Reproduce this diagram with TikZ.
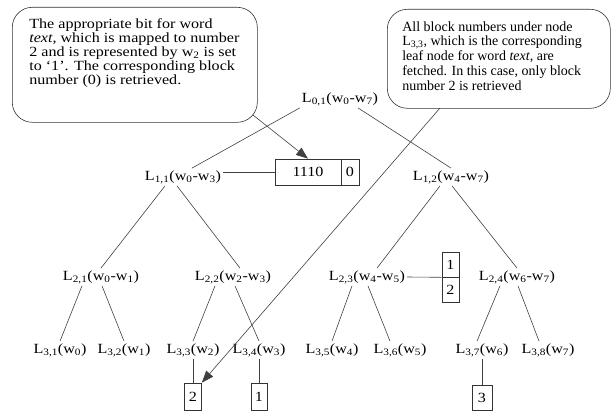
\documentclass[tikz,border=0pt]{standalone}
\usepackage{fontspec}
\setmainfont{Liberation Serif}[FakeStretch=1.15]
\newfontfamily\plainserif{Liberation Serif}
\usepackage{tikz}
\usetikzlibrary{arrows.meta, positioning}

\newcommand{\wi}[1]{w\textsubscript{#1}}
\newcommand{\wl}[2]{L\textsubscript{#1}(#2)}

\tikzset{
  lbl/.style={inner sep=2pt, font=\fontsize{14}{14.2}\selectfont},
  cell/.style={draw=black!80, line width=0.6pt, inner sep=0pt,
    font=\fontsize{14}{14.2}\selectfont},
  note/.style={draw=black!80, line width=0.6pt, rounded corners=20pt,
    anchor=north west, inner xsep=17pt, inner ysep=11pt},
  edge/.style={draw=black!75, line width=0.6pt},
  arr/.style={edge, -{Triangle[length=12pt, width=9pt]}}
}

\begin{document}
\begin{tikzpicture}[x=1pt, y=-1pt]
  \useasboundingbox (0,0) rectangle (612,412);

  % callouts
  \node[note] (c1) at (12,7) {%
    \parbox[c][93pt][t]{211pt}{\fontsize{14}{14.2}\selectfont\raggedright
      The appropriate bit for word\\
      \textit{text}, which is mapped to number\\
      2 and is represented by \wi{2} is set\\
      to `1'. The corresponding block\\
      number (0) is retrieved.}};
  \node[note, inner xsep=15pt, inner ysep=12pt] (c2) at (387,9) {%
    \parbox[c][75pt][t]{193pt}{\plainserif\fontsize{14}{14.75}\selectfont\raggedright
      All block numbers under node\\
      L\textsubscript{3,3}, which is the corresponding\\
      leaf node for word \textit{text}, are\\
      fetched. In this case, only block\\
      number 2 is retrieved}};
  \coordinate (p1) at (253,115);
  \coordinate (p2) at (440,108);

  % tree
  \node[lbl] (l01) at (340,99) {\wl{0,1}{\wi{0}-\wi{7}}};
  \node[lbl] (l11) at (183,177) {\wl{1,1}{\wi{0}-\wi{3}}};
  \node[lbl] (l12) at (451,177) {\wl{1,2}{\wi{4}-\wi{7}}};
  \node[lbl] (l21) at (101,277) {\wl{2,1}{\wi{0}-\wi{1}}};
  \node[lbl] (l22) at (233,277) {\wl{2,2}{\wi{2}-\wi{3}}};
  \node[lbl] (l23) at (367,277) {\wl{2,3}{\wi{4}-\wi{5}}};
  \node[lbl] (l24) at (517,277) {\wl{2,4}{\wi{6}-\wi{7}}};
  \node[lbl] (l31) at (60,350) {\wl{3,1}{\wi{0}}};
  \node[lbl] (l32) at (124,350) {\wl{3,2}{\wi{1}}};
  \node[lbl] (l33) at (193,350) {\wl{3,3}{\wi{2}}};
  \node[lbl] (l34) at (259,350) {\wl{3,4}{\wi{3}}};
  \node[lbl] (l35) at (332,350) {\wl{3,5}{\wi{4}}};
  \node[lbl] (l36) at (400,350) {\wl{3,6}{\wi{5}}};
  \node[lbl] (l37) at (482,350) {\wl{3,7}{\wi{6}}};
  \node[lbl] (l38) at (548,350) {\wl{3,8}{\wi{7}}};

  % bit vector and block numbers
  \node[cell, minimum width=66pt, minimum height=26pt] (bits) at (308,172) {1110};
  \node[cell, minimum width=18pt, minimum height=26pt] (blk) at (350,172) {0};
  \node[cell, minimum width=17pt, minimum height=25pt] (b12a) at (450.5,264.5) {1};
  \node[cell, minimum width=17pt, minimum height=25pt] (b12b) at (450.5,289.5) {2};
  \node[cell, minimum width=17pt, minimum height=27pt] (b2) at (193,396.5) {2};
  \node[cell, minimum width=16pt, minimum height=27pt] (b1) at (259,396.5) {1};
  \node[cell, minimum width=20pt, minimum height=25pt] (b3) at (482,397.5) {3};

  \draw[edge] (l01.south west) -- ([xshift=9pt]l11.north);
  \draw[edge] ([xshift=18pt]l01.south) -- (l12.north);
  \foreach \p/\ps/\c/\cs in {l11/-18/l21/0, l11/-6/l22/7, l12/-11/l23/10, l12/1/l24/0,
      l21/-19/l31/0, l21/1/l32/0, l22/-18/l33/0, l22/2/l34/0,
      l23/-15/l35/0, l23/1/l36/-10, l24/-17/l37/-5, l24/1/l38/-9}
    \draw[edge] ([xshift=\ps pt]\p.south) -- ([xshift=\cs pt]\c.north);

  \draw[edge] (l11.east |- bits.west) -- (bits.west);
  \draw[edge] (l23.east) -- (b12a.south west);
  \draw[edge] (l33.south) -- (b2.north);
  \draw[edge] (l34.south) -- (b1.north);
  \draw[edge] (l37.south) -- (b3.north);

  \draw[arr] (p1) -- (bits.north);
  \draw[arr] (p2) -- (b2.north east);
\end{tikzpicture}
\end{document}
